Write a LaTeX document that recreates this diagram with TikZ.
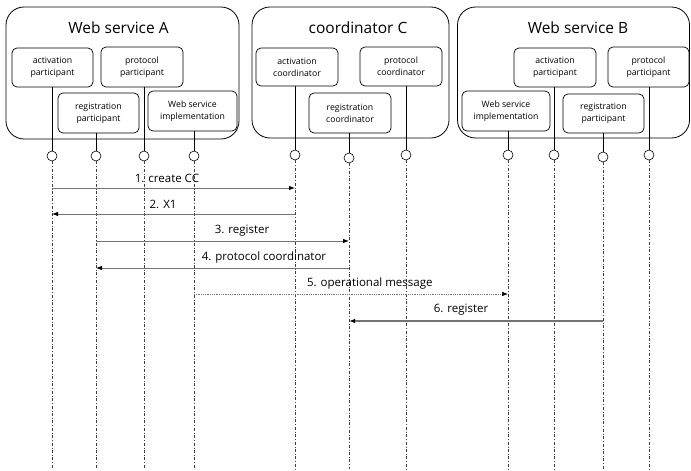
\documentclass[tikz,border=0pt]{standalone}
\usepackage{fontspec}
\setmainfont{Open Sans}
\usetikzlibrary{arrows.meta}
\begin{document}
\begin{tikzpicture}[x=1pt,y=-1pt,
  outerbox/.style={draw, rounded corners=18pt, line width=0.8pt, inner sep=0pt},
  title/.style={font=\fontsize{15.5}{18}\selectfont},
  inbox/.style={draw, rounded corners=5pt, line width=0.7pt, align=center, inner sep=0pt,
    font=\fontsize{8.7}{12}\selectfont, fill=white},
  port/.style={circle, draw, line width=0.6pt, minimum size=10pt, inner sep=0pt, fill=white},
  stem/.style={line width=0.7pt},
  life/.style={dash dot, line width=0.5pt, black!75},
  msg/.style={line width=0.8pt, black!55, -{Latex[color=black,length=6pt,width=4.5pt]}},
  msgdot/.style={msg, densely dotted, line width=0.6pt},
  lbl/.style={above=1.5pt, text=black, font=\fontsize{11.5}{13}\selectfont}]
\useasboundingbox (0,0) rectangle (691,471);
% outer boxes
\node[outerbox, minimum width=233pt, minimum height=132pt] (A) at (122.5,73) {};
\node[outerbox, minimum width=197pt, minimum height=131pt] (C) at (350.5,72.5) {};
\node[outerbox, minimum width=232pt, minimum height=131pt] (B) at (573.5,72.5) {};
\node[title] (tA) at (118.5,28) {Web service A};
\node[title] (tC) at (358,27.5) {coordinator C};
\node[title] (tB) at (578,28) {Web service B};
% inner boxes A
\node[inbox, minimum width=81pt, minimum height=39pt] (aap) at (52.5,67.5) {activation\\participant};
\node[inbox, minimum width=82pt, minimum height=40pt] (app) at (142,67) {protocol\\participant};
\node[inbox, minimum width=81pt, minimum height=40pt] (arp) at (98.5,113) {registration\\participant};
\node[inbox, minimum width=89pt, minimum height=40pt] (aws) at (192.5,111) {Web service\\implementation};
% inner boxes C
\node[inbox, minimum width=82pt, minimum height=38pt] (cac) at (297,67) {activation\\coordinator};
\node[inbox, minimum width=82pt, minimum height=39pt] (cpc) at (401,66.5) {protocol\\coordinator};
\node[inbox, minimum width=82pt, minimum height=40pt] (crc) at (350,113) {registration\\coordinator};
% inner boxes B
\node[inbox, minimum width=82pt, minimum height=39pt] (bap) at (555,67.5) {activation\\participant};
\node[inbox, minimum width=81pt, minimum height=40pt] (bpp) at (648.5,67) {protocol\\participant};
\node[inbox, minimum width=88pt, minimum height=40pt] (bws) at (506,111) {Web service\\implementation};
\node[inbox, minimum width=81pt, minimum height=39pt] (brp) at (603.5,113.5) {registration\\participant};
% ports
\node[port] (pa1) at (52,156) {};
\node[port] (pa2) at (96,156) {};
\node[port] (pa3) at (144,156) {};
\node[port] (pa4) at (194,156) {};
\node[port] (pc1) at (295,155) {};
\node[port] (pc2) at (349,158) {};
\node[port] (pc3) at (406,155) {};
\node[port] (pb1) at (508,155) {};
\node[port] (pb2) at (554,155) {};
\node[port] (pb3) at (603,157) {};
\node[port] (pb4) at (649,155) {};
% stems
\draw[stem] (pa1 |- aap.south) -- (pa1.north);
\draw[stem] (pa2 |- arp.south) -- (pa2.north);
\draw[stem] (pa3 |- app.south) -- (pa3.north);
\draw[stem] (pa4 |- aws.south) -- (pa4.north);
\draw[stem] (pc1 |- cac.south) -- (pc1.north);
\draw[stem] (pc2 |- crc.south) -- (pc2.north);
\draw[stem] (pc3 |- cpc.south) -- (pc3.north);
\draw[stem] (pb1 |- bws.south) -- (pb1.north);
\draw[stem] (pb2 |- bap.south) -- (pb2.north);
\draw[stem] (pb3 |- brp.south) -- (pb3.north);
\draw[stem] (pb4 |- bpp.south) -- (pb4.north);
% lifelines
\coordinate (bot) at (0,469);
\foreach \p in {pa1,pa2,pa3,pa4,pc1,pc2,pc3,pb1,pb2,pb3,pb4}
  \draw[life] (\p.south) -- (\p |- bot);
% messages
\coordinate (m1) at (0,188);
\coordinate (m2) at (0,214);
\coordinate (m3) at (0,241);
\coordinate (m4) at (0,268);
\coordinate (m5) at (0,294);
\coordinate (m6) at (0,321);
\draw[msg] (pa1 |- m1) -- node[lbl, pos=0.473] {1. create CC} (pc1 |- m1);
\draw[msg] (pc1 |- m2) -- node[lbl, pos=0.543] {2. X1} (pa1 |- m2);
\draw[msg] (pa2 |- m3) -- node[lbl, pos=0.577] {3. register} (pc2 |- m3);
\draw[msg] (pc2 |- m4) -- node[lbl, pos=0.336] {4. protocol coordinator} (pa2 |- m4);
\draw[msgdot] (pa4 |- m5) -- node[lbl, pos=0.56] {5. operational message} (pb1 |- m5);
\draw[msg, line width=1.3pt] (pb3 |- m6) -- node[lbl, pos=0.559] {6. register} (pc2 |- m6);
\end{tikzpicture}
\end{document}
